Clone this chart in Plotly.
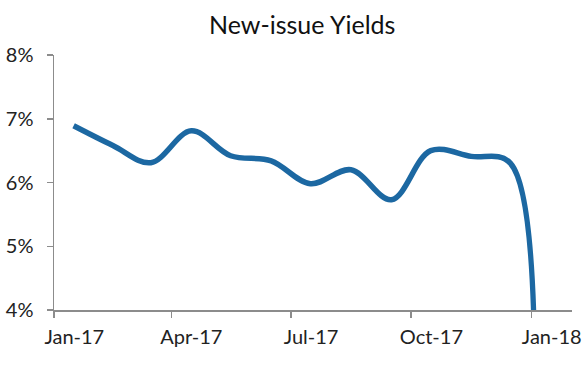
import pandas as pd
import plotly.graph_objects as go

# data points (monthly, plotted mid-month; last point is the Jan-18 drop)
dates = ["2017-01-16", "2017-02-15", "2017-03-16", "2017-04-16", "2017-05-16", "2017-06-16",
         "2017-07-16", "2017-08-16", "2017-09-16", "2017-10-16", "2017-11-16", "2017-12-16",
         "2018-01-01"]
yields = [6.89, 6.58, 6.31, 6.81, 6.42, 6.34, 5.98, 6.20, 5.73, 6.50, 6.41, 6.30, 0.0]

tick_months = ["2017-01", "2017-04", "2017-07", "2017-10", "2018-01"]
tick_labels = ["Jan-17", "Apr-17", "Jul-17", "Oct-17", "Jan-18"]
y_ticks = [4, 5, 6, 7, 8]
y_labels = ["4%", "5%", "6%", "7%", "8%"]


def mid_month(m):
    start = pd.Timestamp(m + "-01")
    end = start + pd.offsets.MonthBegin(1)
    return start + (end - start) / 2


label_pos = [mid_month(m) for m in tick_months]
tick_pos = [pd.Timestamp(m + "-01") for m in tick_months]

FONT = "Lato"
fig = go.Figure()
fig.add_trace(go.Scatter(
    x=pd.to_datetime(dates), y=yields, mode="lines",
    line=dict(color="#1c68a2", width=5.5, shape="spline", smoothing=1.0),
    hoverinfo="skip", showlegend=False,
))

fig.update_layout(
    width=588, height=369,
    margin=dict(l=54, r=16, t=55, b=59, autoexpand=False),
    paper_bgcolor="white", plot_bgcolor="white",
    title=dict(text="New-issue Yields", x=0.514, xanchor="center", y=0.932, yanchor="middle",
               font=dict(family=FONT, size=25, color="#111111")),
    font=dict(family=FONT, size=20, color="#222222"),
)
fig.update_xaxes(
    range=[pd.Timestamp("2017-01-01"), pd.Timestamp("2018-02-01")],
    tickmode="array", tickvals=label_pos, ticktext=tick_labels,
    ticks="", showgrid=False, zeroline=False, automargin=False,
    showline=True, linecolor="#8c8c8c", linewidth=1.5,
    minor=dict(tickmode="array", tickvals=tick_pos, ticks="outside", ticklen=6,
               tickwidth=1.5, tickcolor="#8c8c8c", showgrid=False),
    ticklabelstandoff=8, ticklabeloverflow="allow",
    tickfont=dict(family=FONT, size=20, color="#222222"),
)
fig.update_yaxes(
    range=[4, 8], tickmode="array", tickvals=y_ticks, ticktext=y_labels,
    ticks="outside", ticklen=6, tickwidth=1.5, tickcolor="#8c8c8c",
    showgrid=False, zeroline=False, automargin=False,
    showline=True, linecolor="#8c8c8c", linewidth=1.5,
    ticklabelstandoff=9, ticklabeloverflow="allow",
    tickfont=dict(family=FONT, size=20, color="#222222"),
)

fig.write_html(
    "out.html",
    config={"displayModeBar": False, "staticPlot": True},
    post_script="document.body.style.margin='0';document.body.style.overflow='hidden';",
)
